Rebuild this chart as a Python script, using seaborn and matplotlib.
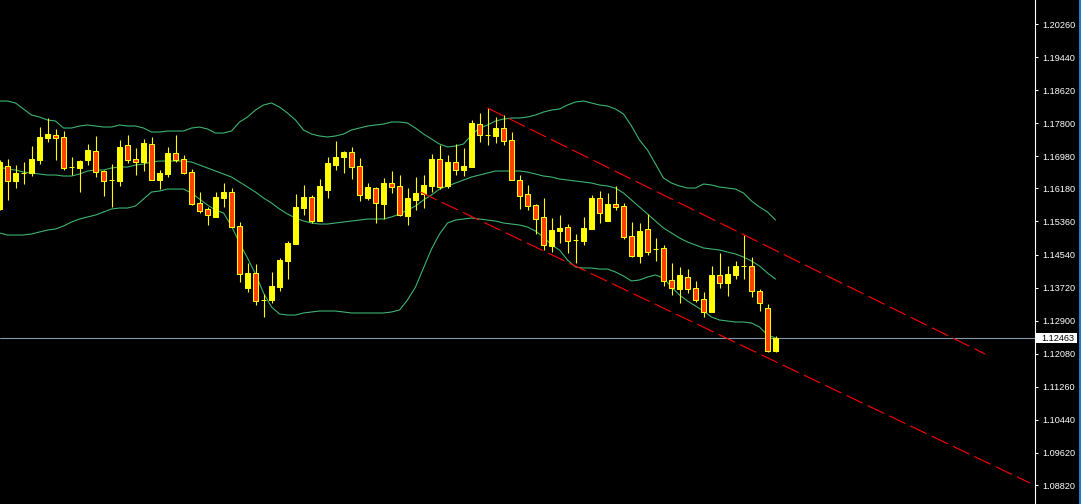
import numpy as np
import pandas as pd
import matplotlib
matplotlib.use("Agg")
import matplotlib.pyplot as plt
import seaborn as sns
from matplotlib.lines import Line2D
from matplotlib.patches import Rectangle
from matplotlib.transforms import blended_transform_factory

# ---------------- data ----------------
opens = [1.15669, 1.16736, 1.16364, 1.16563, 1.16563, 1.16885, 1.17431, 1.17505, 1.17456, 1.16711,
         1.16687, 1.16885, 1.17108, 1.16612, 1.16389, 1.16364, 1.17257, 1.16910, 1.16835, 1.17282,
         1.16389, 1.16538, 1.17059, 1.16910, 1.16587, 1.15818, 1.15669, 1.15471, 1.15942, 1.16091,
         1.15247, 1.13709, 1.14081, 1.13411, 1.13411, 1.13734, 1.14379, 1.14801, 1.15694, 1.15967,
         1.15371, 1.16141, 1.16761, 1.16960, 1.17084, 1.16736, 1.15942, 1.16190, 1.15793, 1.16314,
         1.16240, 1.15496, 1.15893, 1.16041, 1.16240, 1.16910, 1.16240, 1.16835, 1.16637, 1.16711,
         1.17778, 1.17505, 1.17481, 1.17679, 1.17381, 1.16389, 1.16041, 1.15768, 1.15471, 1.14751,
         1.15123, 1.15223, 1.14900, 1.14875, 1.15173, 1.15942, 1.15371, 1.15793, 1.15744, 1.14999,
         1.14503, 1.15173, 1.14677, 1.14702, 1.13908, 1.13684, 1.13982, 1.13709, 1.13436, 1.13114,
         1.14032, 1.13833, 1.14032, 1.14255, 1.14255, 1.13635, 1.13213, 1.12146]
highs = [1.16885, 1.16910, 1.16761, 1.16835, 1.17233, 1.17704, 1.17927, 1.17654, 1.17605, 1.16960,
         1.16885, 1.17282, 1.17481, 1.16637, 1.16786, 1.17381, 1.17505, 1.17183, 1.17406, 1.17456,
         1.16637, 1.17208, 1.17505, 1.17009, 1.16662, 1.16091, 1.15719, 1.16091, 1.16314, 1.16190,
         1.15347, 1.14329, 1.14305, 1.13560, 1.14106, 1.14453, 1.14875, 1.16041, 1.16265, 1.16017,
         1.16414, 1.16960, 1.17357, 1.17108, 1.17208, 1.16935, 1.16314, 1.16215, 1.16438, 1.16612,
         1.16513, 1.16190, 1.16463, 1.16513, 1.17034, 1.17257, 1.17009, 1.17282, 1.17183, 1.17878,
         1.18051, 1.18176, 1.17952, 1.18002, 1.17580, 1.16513, 1.16265, 1.15793, 1.15942, 1.15446,
         1.15520, 1.15297, 1.15049, 1.15471, 1.16017, 1.16116, 1.16066, 1.16240, 1.15818, 1.15347,
         1.15322, 1.15545, 1.14950, 1.14776, 1.14329, 1.14230, 1.14180, 1.13883, 1.13610, 1.14255,
         1.14577, 1.14255, 1.14379, 1.15024, 1.14478, 1.13684, 1.13312, 1.12518]
lows = [1.15644, 1.15893, 1.16190, 1.16290, 1.16488, 1.16786, 1.17332, 1.16885, 1.16637, 1.16513,
        1.16091, 1.16761, 1.16463, 1.15992, 1.15719, 1.16240, 1.16811, 1.16513, 1.16612, 1.16389,
        1.16165, 1.16463, 1.16835, 1.16538, 1.15768, 1.15570, 1.15272, 1.15471, 1.15719, 1.15223,
        1.13858, 1.13610, 1.13287, 1.12989, 1.13337, 1.13635, 1.13932, 1.14801, 1.15520, 1.15322,
        1.15371, 1.15942, 1.16637, 1.16563, 1.16414, 1.15868, 1.15893, 1.15322, 1.15421, 1.16066,
        1.15496, 1.15272, 1.15644, 1.15694, 1.16091, 1.16165, 1.16190, 1.16513, 1.16488, 1.16711,
        1.17332, 1.17257, 1.17307, 1.17257, 1.16389, 1.15669, 1.15644, 1.15049, 1.14652, 1.14602,
        1.14826, 1.14577, 1.14329, 1.14776, 1.15173, 1.15322, 1.15371, 1.15644, 1.14925, 1.14478,
        1.14329, 1.14528, 1.14379, 1.13759, 1.13535, 1.13337, 1.13585, 1.13362, 1.12989, 1.13114,
        1.13709, 1.13511, 1.13932, 1.13932, 1.13486, 1.13138, 1.12121, 1.12121]
closes = [1.16835, 1.16364, 1.16563, 1.16563, 1.16910, 1.17456, 1.17530, 1.17431, 1.16687, 1.16711,
          1.16860, 1.17133, 1.16587, 1.16364, 1.16389, 1.17208, 1.16885, 1.16835, 1.17307, 1.16389,
          1.16563, 1.17059, 1.16885, 1.16563, 1.15793, 1.15620, 1.15520, 1.15967, 1.16091, 1.15223,
          1.14056, 1.14081, 1.13386, 1.13411, 1.13759, 1.14404, 1.14826, 1.15719, 1.15967, 1.15371,
          1.16240, 1.16811, 1.16960, 1.17084, 1.16711, 1.16017, 1.16215, 1.15818, 1.16314, 1.16215,
          1.15520, 1.15942, 1.16066, 1.16265, 1.16910, 1.16215, 1.16835, 1.16637, 1.16736, 1.17803,
          1.17505, 1.17505, 1.17679, 1.17357, 1.16389, 1.15992, 1.15744, 1.15421, 1.14776, 1.15148,
          1.15198, 1.14875, 1.14900, 1.15198, 1.15942, 1.15570, 1.15793, 1.15719, 1.14974, 1.14503,
          1.15123, 1.14602, 1.14677, 1.13883, 1.13709, 1.14032, 1.13684, 1.13411, 1.13114, 1.14032,
          1.13833, 1.14056, 1.14255, 1.14255, 1.13635, 1.13337, 1.12146, 1.12463]

upper_band = [1.18349, 1.18349, 1.18300, 1.18151, 1.18002, 1.17952, 1.17878, 1.17853, 1.17679, 1.17679,
              1.17729, 1.17754, 1.17729, 1.17704, 1.17704, 1.17754, 1.17729, 1.17729, 1.17679, 1.17580,
              1.17580, 1.17605, 1.17605, 1.17605, 1.17679, 1.17704, 1.17654, 1.17555, 1.17555, 1.17605,
              1.17828, 1.17952, 1.18126, 1.18250, 1.18300, 1.18200, 1.18051, 1.17878, 1.17630, 1.17530,
              1.17481, 1.17456, 1.17481, 1.17530, 1.17630, 1.17679, 1.17729, 1.17754, 1.17778, 1.17828,
              1.17828, 1.17803, 1.17679, 1.17530, 1.17406, 1.17282, 1.17208, 1.17233, 1.17282, 1.17505,
              1.17679, 1.17754, 1.17853, 1.17903, 1.17927, 1.17927, 1.17952, 1.18002, 1.18076, 1.18126,
              1.18151, 1.18250, 1.18325, 1.18349, 1.18300, 1.18250, 1.18225, 1.18151, 1.18027, 1.17729,
              1.17381, 1.17133, 1.16786, 1.16438, 1.16314, 1.16240, 1.16190, 1.16190, 1.16290, 1.16265,
              1.16215, 1.16190, 1.16165, 1.16066, 1.15868, 1.15719, 1.15595, 1.15396]
middle_band = [1.16711, 1.16662, 1.16637, 1.16587, 1.16563, 1.16538, 1.16513, 1.16513, 1.16488, 1.16488,
               1.16538, 1.16612, 1.16637, 1.16637, 1.16687, 1.16711, 1.16711, 1.16761, 1.16786, 1.16835,
               1.16860, 1.16860, 1.16860, 1.16860, 1.16835, 1.16761, 1.16687, 1.16612, 1.16538, 1.16463,
               1.16339, 1.16215, 1.16091, 1.15942, 1.15818, 1.15669, 1.15545, 1.15446, 1.15371, 1.15322,
               1.15297, 1.15297, 1.15322, 1.15347, 1.15371, 1.15396, 1.15421, 1.15421, 1.15421, 1.15471,
               1.15545, 1.15644, 1.15744, 1.15893, 1.16017, 1.16165, 1.16240, 1.16314, 1.16389, 1.16463,
               1.16513, 1.16563, 1.16612, 1.16612, 1.16612, 1.16612, 1.16587, 1.16538, 1.16488, 1.16463,
               1.16414, 1.16389, 1.16364, 1.16339, 1.16314, 1.16265, 1.16240, 1.16190, 1.16066, 1.15893,
               1.15719, 1.15545, 1.15371, 1.15198, 1.15074, 1.14950, 1.14850, 1.14776, 1.14702, 1.14677,
               1.14652, 1.14602, 1.14553, 1.14478, 1.14379, 1.14255, 1.14081, 1.13932]
lower_band = [1.15074, 1.15024, 1.15024, 1.15024, 1.15049, 1.15099, 1.15148, 1.15173, 1.15247, 1.15347,
              1.15421, 1.15471, 1.15520, 1.15595, 1.15669, 1.15694, 1.15694, 1.15744, 1.15917, 1.16091,
              1.16116, 1.16165, 1.16165, 1.16165, 1.16066, 1.15917, 1.15768, 1.15644, 1.15570, 1.15247,
              1.14826, 1.14453, 1.14056, 1.13585, 1.13238, 1.13064, 1.13039, 1.13039, 1.13089, 1.13114,
              1.13138, 1.13138, 1.13138, 1.13114, 1.13089, 1.13089, 1.13089, 1.13089, 1.13089, 1.13114,
              1.13163, 1.13411, 1.13734, 1.14205, 1.14677, 1.15049, 1.15322, 1.15396, 1.15421, 1.15446,
              1.15421, 1.15396, 1.15371, 1.15322, 1.15297, 1.15272, 1.15223, 1.15123, 1.14974, 1.14776,
              1.14652, 1.14404, 1.14230, 1.14205, 1.14205, 1.14180, 1.14180, 1.14106, 1.14007, 1.13883,
              1.13908, 1.13982, 1.14032, 1.13957, 1.13734, 1.13535, 1.13386, 1.13262, 1.13138, 1.12989,
              1.12915, 1.12890, 1.12865, 1.12865, 1.12841, 1.12741, 1.12543, 1.12468]

channel_upper_x = [61.0, 123.2]
channel_upper_y = [1.18176, 1.12071]
channel_lower_x = [52.6, 128.8]
channel_lower_y = [1.16091, 1.08870]

current_price = 1.12463
current_label = "1.12463"

tick_values = [1.20260, 1.19440, 1.18620, 1.17800, 1.16980, 1.16180, 1.15360, 1.14540,
               1.13720, 1.12900, 1.12080, 1.11260, 1.10440, 1.09620, 1.08820]
tick_labels = ["1.20260", "1.19440", "1.18620", "1.17800", "1.16980", "1.16180", "1.15360", "1.14540",
               "1.13720", "1.12900", "1.12080", "1.11260", "1.10440", "1.09620", "1.08820"]

# ---------------- styling ----------------
sns.set_theme(style="dark")
plt.rcParams['font.family'] = ['Liberation Sans', 'DejaVu Sans']
plt.rcParams['lines.scale_dashes'] = False

W, H = 1081, 504
PLOT_W = 1035
fig = plt.figure(figsize=(W / 100, H / 100), dpi=100, facecolor='black')
ax = fig.add_axes([0, 0, PLOT_W / W, 1])
ax.set_facecolor('black')

n = len(opens)
idx = np.arange(n)
o = np.array(opens); c = np.array(closes)
h = np.array(highs); l = np.array(lows)

df = pd.DataFrame({'k': idx, 'upper': upper_band, 'middle': middle_band, 'lower': lower_band})
band_color = '#3CB371'
for col in ['upper', 'middle', 'lower']:
    sns.lineplot(data=df, x='k', y=col, ax=ax, color=band_color, linewidth=0.8,
                 legend=False, zorder=2)

# current price line
ax.axhline(current_price, color='#8597ab', linewidth=0.8, zorder=1.5)

# candles
yellow = '#FFFF00'
red = '#FF4000'
ax.vlines(idx, l, h, color=yellow, linewidth=0.8, zorder=3)
bottom = np.minimum(o, c)
height = np.abs(c - o)
bull = c >= o
ax.bar(idx[bull], height[bull], bottom=bottom[bull], width=0.52, color=yellow,
       edgecolor=yellow, linewidth=0.75, zorder=4)
ax.bar(idx[~bull], height[~bull], bottom=bottom[~bull], width=0.52, color=red,
       edgecolor=yellow, linewidth=0.75, zorder=4)

# channel lines
ax.plot(channel_upper_x, channel_upper_y, color='#FF0000', linewidth=0.8,
        linestyle=(0, (13, 4)), zorder=5)
ax.plot(channel_lower_x, channel_lower_y, color='#FF0000', linewidth=0.8,
        linestyle=(0, (13, 4)), zorder=5)

# axes limits: pixel 0..1035 horizontally, full height vertically
ax.set_xlim(0.0625, (PLOT_W + 0.5) / 8)
ax.set_ylim(1.08349, 1.20856)

ax.set_xticks([])
ax.set_xlabel('')
ax.set_ylabel('')
ax.yaxis.tick_right()
ax.set_yticks(tick_values)
ax.set_yticklabels(tick_labels)
ax.tick_params(axis='y', colors='white', labelcolor='white', labelsize=6.6,
               length=2.5, width=0.75, pad=3, direction='out', right=True, left=False)
ax.grid(False)
for side in ['left', 'top', 'bottom']:
    ax.spines[side].set_visible(False)
ax.spines['right'].set_color('white')
ax.spines['right'].set_linewidth(0.8)

# current price box on the axis
tr = blended_transform_factory(ax.transAxes, ax.transData)
box_h = 10 * (1.20856 - 1.08349) / H
ax.add_patch(Rectangle((1.0 + 1.0 / PLOT_W, current_price - box_h / 2), 41.0 / PLOT_W, box_h,
                       transform=tr, facecolor='white', edgecolor='none', clip_on=False, zorder=10))
ax.text(1.0 + 6.0 / PLOT_W, current_price, current_label, transform=tr, color='black',
        fontsize=6.6, va='center', ha='left', clip_on=False, zorder=11)

# right window border
fig.add_artist(Line2D([1079.8 / W, 1079.8 / W], [0, 1], transform=fig.transFigure,
                      color='#1E7FD6', linewidth=1.4))

fig.savefig('out.png', dpi=100, facecolor='black')
